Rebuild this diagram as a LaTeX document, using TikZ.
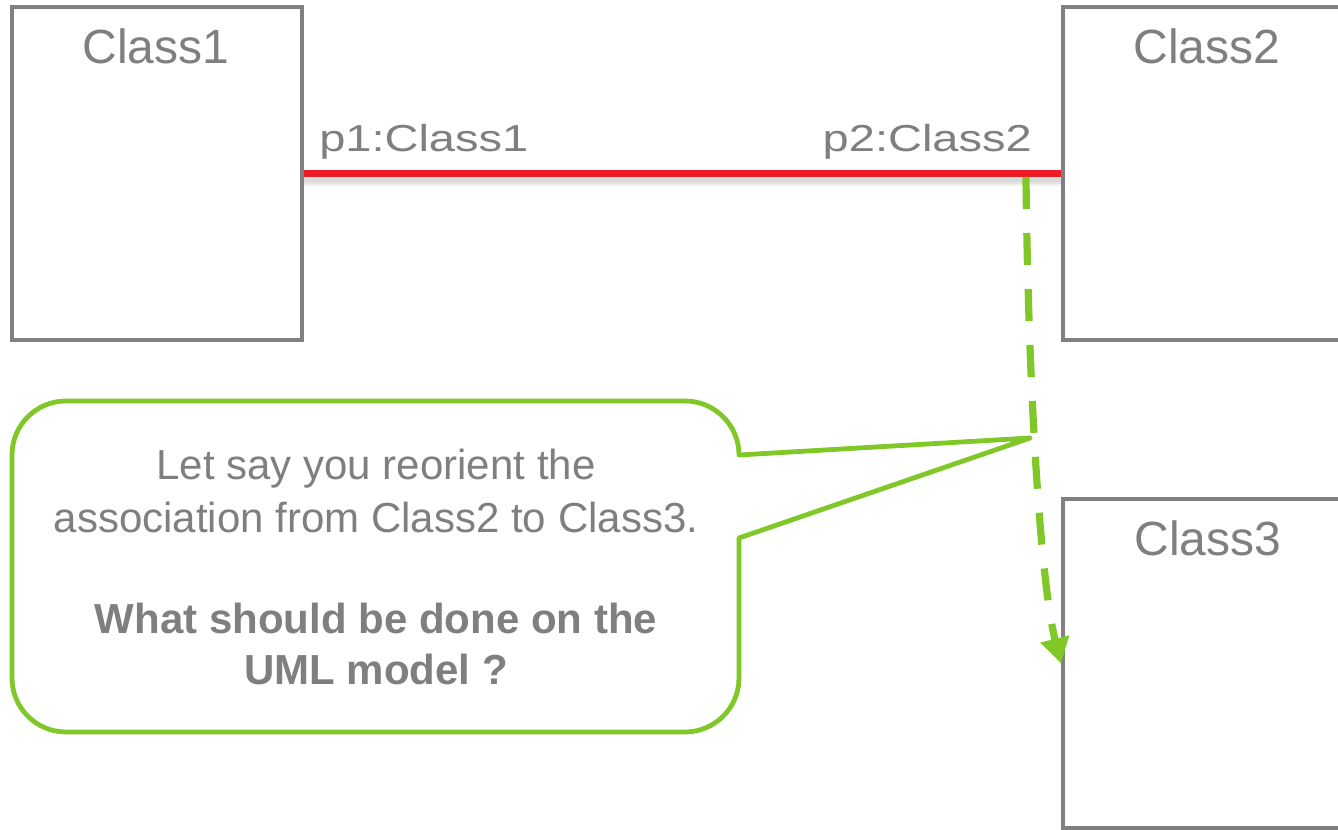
\documentclass[tikz,border=0pt]{standalone}
\usepackage{fontspec}
\usepackage{graphicx}
\setmainfont{Liberation Sans}
\usetikzlibrary{arrows.meta}
\definecolor{boxgray}{RGB}{128,128,128}
\definecolor{txtgray}{RGB}{127,127,127}
\definecolor{assocred}{RGB}{237,28,36}
\definecolor{notegreen}{RGB}{128,200,40}
\begin{document}
\begin{tikzpicture}[x=0.75pt,y=-0.75pt,
  classbox/.style={draw=boxgray, line width=3pt, minimum width=217.5pt, inner sep=0pt, fill=white},
  classname/.style={text=txtgray, font=\fontsize{36}{40}\selectfont, anchor=base, inner sep=0pt},
  rolename/.style={text=txtgray, font=\fontsize{35.25}{40}\selectfont, inner sep=0pt},
  assoc/.style={draw=assocred, line width=5.6pt},
  assocshadow/.style={draw=black, opacity=0.05},
  redirect/.style={draw=notegreen, line width=5.4pt, dash pattern=on 24pt off 18pt, -{Triangle[length=19pt,width=21pt]}},
  note/.style={draw=notegreen, line width=3.6pt, line join=round},
  notetext/.style={text=txtgray, font=\fontsize{31.5}{38}\selectfont, anchor=base, inner sep=0pt}
]
\useasboundingbox (0,0) rectangle (1338,830);
\clip (0,0) rectangle (1338,830);
\fill[white] (0,0) rectangle (1338,830);

% class boxes
\node[classbox, minimum height=249.75pt] (c1) at (157,173.5) {};
\node[classbox, minimum height=249.75pt] (c2) at (1208,173.5) {};
\node[classbox, minimum height=246.75pt] (c3) at (1208,663.5) {};

\node[classname] (l1) at (156,64) {Class1};
\node[classname] (l2) at (1207,64) {Class2};
\node[classname] (l3) at (1208,555) {Class3};

% association with soft shadow
\draw[assocshadow, line width=9pt] ([yshift=-5pt]c1.east) -- ([yshift=-5pt]c2.west);
\draw[assocshadow, line width=6pt] ([yshift=-5pt]c1.east) -- ([yshift=-5pt]c2.west);
\draw[assocshadow, line width=3pt] ([yshift=-5pt]c1.east) -- ([yshift=-5pt]c2.west);
\draw[assoc] (c1.east) -- (c2.west);

\node[rolename, anchor=base west] (r1) at (319,152) {\scalebox{1}[0.8]{p1:Class1}};
\node[rolename, anchor=base east] (r2) at (1032,152) {\scalebox{1}[0.8]{p2:Class2}};

% redirected association end
\coordinate (gs) at (1026,177);
\draw[redirect] (gs) .. controls (1028,380) and (1040,580) .. (c3.west);

% callout
\coordinate (ptip) at (1030,438);
\draw[note] (739,538) [rounded corners=40.5pt] -- (739,732) -- (12,732) -- (12,401) -- (739,401) [sharp corners] -- (739,455) -- (ptip) -- cycle;

\node[notetext] (n1) at (376,479) {Let say you reorient the};
\node[notetext] (n2) at (376,532) {association from Class2 to Class3.};
\node[notetext] (n3) at (376,633) {\bfseries What should be done on the};
\node[notetext] (n4) at (376,684) {\bfseries UML model ?};
\end{tikzpicture}
\end{document}
